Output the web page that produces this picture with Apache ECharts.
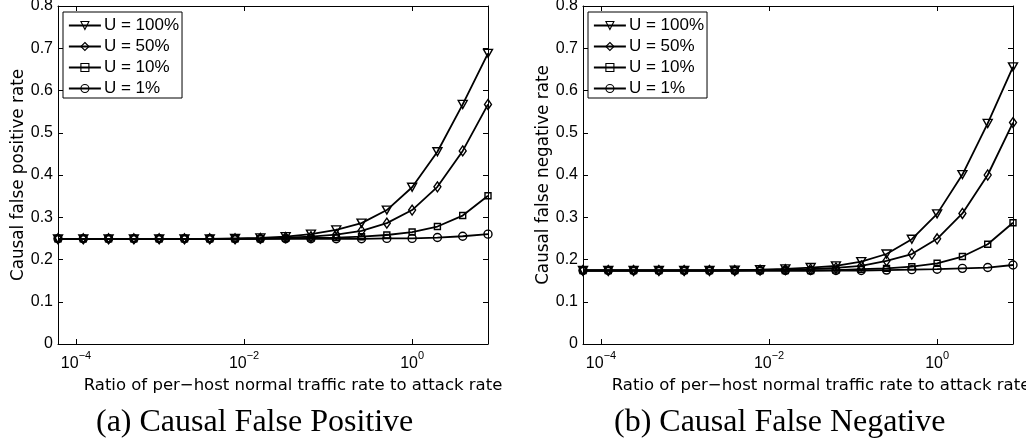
<!DOCTYPE html>
<html>
<head>
<meta charset="utf-8">
<script src="https://cdn.jsdelivr.net/npm/echarts@6/dist/echarts.min.js"></script>
<style>
html,body{margin:0;padding:0;background:#fff;}
#chart{width:1026px;height:442px;}
</style>
</head>
<body>
<div id="chart"></div>
<script>
// x values: ratio of per-host normal traffic rate to attack rate
const xValues = [6.1035e-5, 1.2207e-4, 2.4414e-4, 4.8828e-4, 9.7656e-4, 0.0019531, 0.0039063, 0.0078125,
  0.015625, 0.03125, 0.0625, 0.125, 0.25, 0.5, 1, 2, 4, 8];
const seriesNames = ['U = 100%', 'U = 50%', 'U = 10%', 'U = 1%'];
const xTickValues = [1e-4, 1e-2, 1];
const yTickMax = 0.8;

// (a) Causal false positive rate
const fp100 = [0.249,0.249,0.249,0.249,0.249,0.249,0.249,0.250,0.251,0.254,0.260,0.270,0.286,0.317,0.371,0.455,0.567,0.688];
const fp50  = [0.249,0.249,0.249,0.249,0.249,0.249,0.249,0.249,0.250,0.252,0.254,0.259,0.268,0.286,0.317,0.372,0.457,0.567];
const fp10  = [0.249,0.249,0.249,0.249,0.249,0.249,0.249,0.249,0.249,0.250,0.251,0.252,0.254,0.258,0.265,0.278,0.304,0.351];
const fp1   = [0.249,0.249,0.249,0.249,0.249,0.249,0.249,0.249,0.249,0.249,0.249,0.249,0.249,0.250,0.250,0.252,0.255,0.260];

// (b) Causal false negative rate
const fn100 = [0.174,0.174,0.174,0.174,0.174,0.174,0.175,0.176,0.178,0.181,0.185,0.195,0.213,0.248,0.308,0.401,0.522,0.656];
const fn50  = [0.174,0.174,0.174,0.174,0.174,0.174,0.174,0.175,0.176,0.177,0.180,0.185,0.197,0.213,0.249,0.309,0.400,0.524];
const fn10  = [0.174,0.174,0.174,0.174,0.174,0.174,0.174,0.174,0.174,0.174,0.175,0.177,0.179,0.183,0.191,0.207,0.236,0.287];
const fn1   = [0.174,0.174,0.174,0.174,0.174,0.174,0.174,0.174,0.174,0.174,0.174,0.174,0.175,0.176,0.177,0.179,0.181,0.187];

const SANS = 'Liberation Sans, Arial, Helvetica, sans-serif';
const TITLE_SANS = 'DejaVu Sans, sans-serif';

const markers = [
  {symbol: 'triangle', size: [9, 8], rotate: 180},
  {symbol: 'diamond', size: [7, 10], rotate: 0},
  {symbol: 'rect', size: [6, 6], rotate: 0},
  {symbol: 'circle', size: 8, rotate: 0}
];

function pairs(ys) { return xValues.map((x, i) => [x, ys[i]]); }

function xAxisPair(gridIndex, namePad) {
  const base = {
    type: 'log', logBase: 10, gridIndex: gridIndex,
    min: xValues[0], max: xValues[xValues.length - 1],
    axisLine: {show: true, onZero: false, lineStyle: {color: '#000', width: 1}},
    axisTick: {show: true, inside: true, length: 5, customValues: xTickValues, lineStyle: {color: '#000'}},
    splitLine: {show: false},
    minorTick: {show: false}
  };
  return [
    Object.assign({}, base, {
      position: 'bottom',
      name: 'Ratio of per\u2212host normal traffic rate to attack rate',
      nameLocation: 'middle', nameGap: 26,
      nameTextStyle: {fontFamily: TITLE_SANS, fontSize: 16.5, color: '#000', padding: [0, 0, 0, namePad]},
      axisLabel: {
        show: true, margin: 6, customValues: xTickValues,
        formatter: function (v) {
          const e = Math.round(Math.log10(v));
          return '{b|10}{e|' + (e < 0 ? '\u2212' + (-e) : String(e)) + '}';
        },
        rich: {
          b: {fontFamily: SANS, fontSize: 16, color: '#000', lineHeight: 22, verticalAlign: 'bottom'},
          e: {fontFamily: SANS, fontSize: 11, color: '#000', lineHeight: 11, verticalAlign: 'top'}
        }
      }
    }),
    Object.assign({}, base, {position: 'top', axisLabel: {show: false}})
  ];
}

function yAxisPair(gridIndex, name) {
  const base = {
    type: 'value', gridIndex: gridIndex, min: 0, max: yTickMax, interval: 0.1,
    axisLine: {show: true, onZero: false, lineStyle: {color: '#000', width: 1}},
    axisTick: {show: true, inside: true, length: 5, lineStyle: {color: '#000'}},
    splitLine: {show: false}
  };
  return [
    Object.assign({}, base, {
      position: 'left', name: name, nameLocation: 'middle', nameGap: 31,
      nameTextStyle: {fontFamily: TITLE_SANS, fontSize: 16.8, color: '#000'},
      axisLabel: {show: true, margin: 5, fontFamily: SANS, fontSize: 16, color: '#000',
        formatter: function (v) { return v === 0 ? '0' : v.toFixed(1); }}
    }),
    Object.assign({}, base, {position: 'right', axisLabel: {show: false}})
  ];
}

function makeSeries(dataSets, xIdx, yIdx) {
  return dataSets.map((ys, i) => ({
    name: seriesNames[i], type: 'line', xAxisIndex: xIdx, yAxisIndex: yIdx,
    data: pairs(ys),
    symbol: markers[i].symbol, symbolSize: markers[i].size, symbolRotate: markers[i].rotate,
    showAllSymbol: true, clip: false,
    lineStyle: {color: '#000', width: 1.8},
    itemStyle: {color: 'rgba(0,0,0,0)', borderColor: '#000', borderWidth: 1.4},
    emphasis: {disabled: true},
    z: 2 + i
  }));
}

function legendAt(left) {
  return {
    left: left, top: 12, orient: 'vertical', data: seriesNames, selectedMode: false,
    backgroundColor: '#fff', borderColor: '#000', borderWidth: 1, borderRadius: 0,
    padding: [5, 3, 1, 5], itemGap: 4, itemWidth: 32, itemHeight: 10,
    lineStyle: {width: 1.8},
    itemStyle: {borderWidth: 1.1},
    textStyle: {fontFamily: SANS, fontSize: 17, color: '#000', padding: [0, 0, 0, -2]}
  };
}

const chart = echarts.init(document.getElementById('chart'), null, {renderer: 'canvas'});
chart.setOption({
  animation: false,
  backgroundColor: '#fff',
  title: [
    {text: '(a) Causal False Positive', left: 96, top: 407, padding: 0,
      textStyle: {fontFamily: 'Liberation Serif, Times New Roman, serif', fontSize: 32, fontWeight: 'normal', color: '#000'}},
    {text: '(b) Causal False Negative', left: 614, top: 407, padding: 0,
      textStyle: {fontFamily: 'Liberation Serif, Times New Roman, serif', fontSize: 32, fontWeight: 'normal', color: '#000'}}
  ],
  legend: [legendAt(63), legendAt(588)],
  grid: [
    {left: 58, top: 6, width: 430, height: 338, containLabel: false, outerBoundsMode: 'none'},
    {left: 583, top: 6, width: 430, height: 338, containLabel: false, outerBoundsMode: 'none'}
  ],
  xAxis: xAxisPair(0, 40).concat(xAxisPair(1, 46)),
  yAxis: yAxisPair(0, 'Causal false positive rate').concat(yAxisPair(1, 'Causal false negative rate')),
  series: makeSeries([fp100, fp50, fp10, fp1], 0, 0).concat(makeSeries([fn100, fn50, fn10, fn1], 2, 2))
});
</script>
</body>
</html>
